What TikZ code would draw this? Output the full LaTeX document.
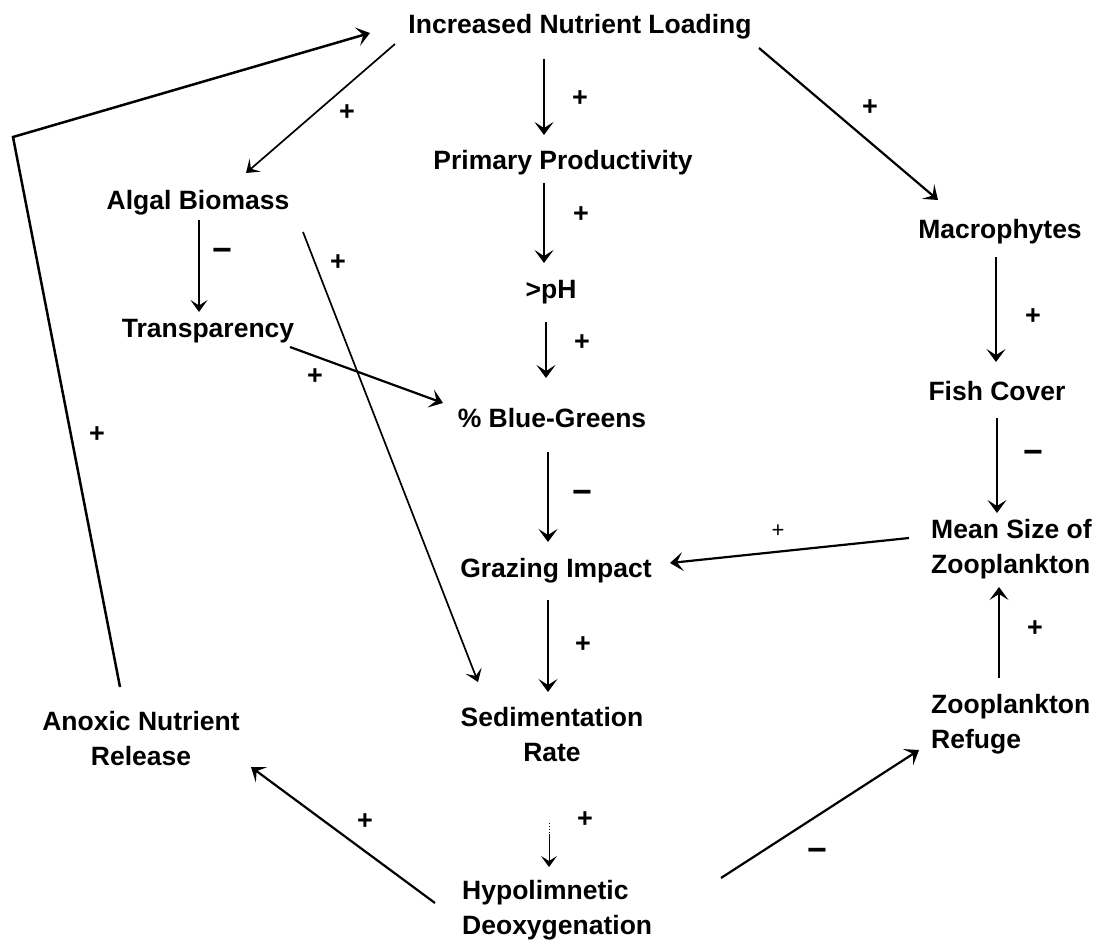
\documentclass[tikz,border=0pt]{standalone}
\usepackage{fontspec}
\setmainfont{Liberation Sans}
\usetikzlibrary{arrows.meta,calc}
\begin{document}
\begin{tikzpicture}[x=1pt,y=-1pt,
  lbl/.style={font=\fontsize{26.5}{35}\selectfont\bfseries, inner sep=0pt, anchor=base},
  sgn/.style={font=\fontsize{27}{30}\selectfont\bfseries, inner sep=0pt},
  sgnminus/.style={font=\fontsize{34}{36}\selectfont\bfseries, inner sep=0pt},
  sgnlight/.style={font=\fontsize{22}{26}\selectfont, inner sep=0pt},
  arr/.style={line width=2.2pt, -{Stealth[length=13pt,width=19pt,inset=6pt]}},
  thinarr/.style={line width=1.7pt, -{Stealth[length=12pt,width=17pt,inset=5.5pt]}},
]
\useasboundingbox[fill=white] (0,0) rectangle (1096,940);

% nodes (base = baseline of the last line)
\node[lbl] (inl) at (580,33) {Increased Nutrient Loading};
\node[lbl] (pp) at (563,169) {Primary Productivity};
\node[lbl] (ph) at (551,298) {>pH};
\node[lbl] (bg) at (552,427) {\% Blue-Greens};
\node[lbl] (gi) at (556,577) {Grazing Impact};
\node[lbl, align=center] (sr) at (552,761) {Sedimentation\\Rate};
\node[lbl, align=left, anchor=base west] (hd) at (462,934) {Hypolimnetic\\Deoxygenation};
\node[lbl] (ab) at (198,209) {Algal Biomass};
\node[lbl] (tr) at (208,337) {Transparency};
\node[lbl, align=center] (anr) at (141,765) {Anoxic Nutrient\\Release};
\node[lbl] (mac) at (1000,238) {Macrophytes};
\node[lbl] (fc) at (997,400) {Fish Cover};
\node[lbl, align=left, anchor=base west] (ms) at (931,573) {Mean Size of\\Zooplankton};
\node[lbl, align=left, anchor=base west] (zr) at (931,748) {Zooplankton\\Refuge};

% signs
\node[sgn] (s1) at (580,99) {+};
\node[sgn] (s2) at (581,215) {+};
\node[sgn] (s3) at (582,343) {+};
\node[sgnminus] (s4) at (582,497) {−};
\node[sgn] (s5) at (583,645) {+};
\node[sgn] (s6) at (585,820) {+};
\node[sgn] (s7) at (347,113) {+};
\node[sgn] (s8) at (870,108) {+};
\node[sgnminus] (s9) at (222,255) {−};
\node[sgn] (s10) at (338,263) {+};
\node[sgn] (s11) at (315,377) {+};
\node[sgn] (s12) at (97,435) {+};
\node[sgn] (s13) at (365,822) {+};
\node[sgnminus] (s14) at (817,855) {−};
\node[sgn] (s15) at (1033,317) {+};
\node[sgnminus] (s16) at (1033,457) {−};
\node[sgn] (s17) at (1035,629) {+};
\node[sgnlight] (s18) at (778,531) {+};

% central column
\draw[arr] ($(inl.base)+(-36,26)$) -- ($(pp.base)+(-19,-34)$);
\draw[arr] ($(pp.base)+(-19,14)$) -- ($(ph.base)+(-7,-35)$);
\draw[arr] ($(ph.base)+(-5,24)$) -- ($(bg.base)+(-6,-49)$);
\draw[arr] ($(bg.base)+(-4,25)$) -- ($(gi.base)+(-8,-35)$);
\draw[arr] ($(gi.base)+(-8,23)$) -- ($(sr.base)+(-4,-69)$);
\draw[line width=0.9pt, dotted] ($(sr.base)+(-3,62)$) -- ($(sr.base)+(-3,73)$);
\draw[line width=1pt, -{Stealth[length=11pt,width=16pt,inset=5pt]}] ($(sr.base)+(-3,73)$) -- ($(hd.base west)+(87,-67)$);

% left side
\draw[thinarr] ($(inl.base)+(-185,11)$) -- ($(ab.base)+(48,-36)$);
\draw[thinarr] ($(ab.base)+(1,11)$) -- ($(tr.base)+(-9,-25)$);
\draw[thinarr] ($(ab.base)+(105,23)$) -- ($(sr.base)+(-74,-79)$);
\draw[arr] ($(tr.base)+(82,10)$) -- ($(bg.base)+(-109,-24)$);
\coordinate (bend) at (13,137);
\draw[arr, line width=2.5pt] ($(anr.base)+(-21,-78)$) -- (bend) -- ($(inl.base)+(-210,0)$);
\draw[arr] ($(hd.base west)+(-27,-31)$) -- ($(anr.base)+(110,2)$);

% right side
\draw[arr] ($(inl.base)+(179,15)$) -- ($(mac.base)+(-62,-38)$);
\draw[arr] ($(mac.base)+(-4,19)$) -- ($(fc.base)+(-1,-38)$);
\draw[arr] ($(fc.base)+(0,18)$) -- ($(ms.base west)+(66,-60)$);
\draw[arr] ($(zr.base west)+(68,-70)$) -- ($(ms.base west)+(68,14)$);
\draw[arr] ($(ms.base west)+(-22,-35)$) -- ($(gi.base)+(114,-14)$);
\draw[arr] ($(hd.base west)+(259,-56)$) -- ($(zr.base west)+(-12,2)$);
\end{tikzpicture}
\end{document}
